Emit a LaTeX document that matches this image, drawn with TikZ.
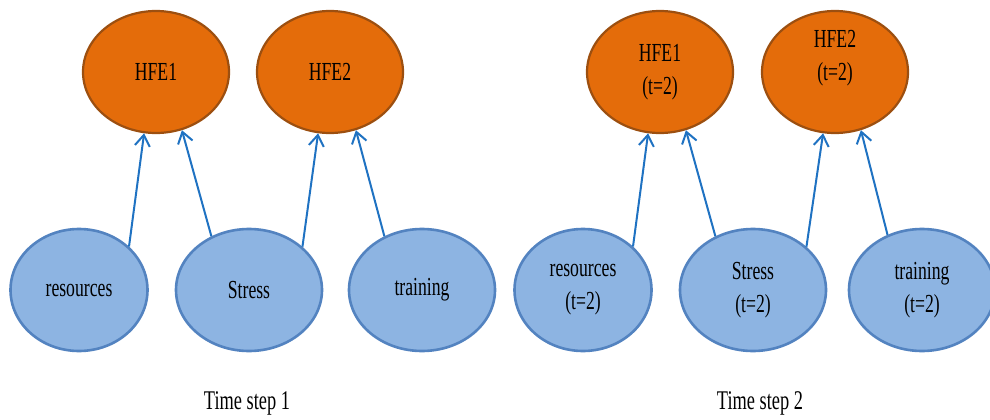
\documentclass[tikz,border=0pt]{standalone}
\usepackage{fontspec}
\setmainfont[FakeStretch=0.68]{Liberation Serif}
\usetikzlibrary{shapes.geometric,arrows.meta}

\definecolor{hfefill}{HTML}{E46C0A}
\definecolor{hfeline}{HTML}{9C4F10}
\definecolor{pfill}{HTML}{8DB4E2}
\definecolor{pline}{HTML}{5383C0}
\definecolor{arrowblue}{HTML}{1F72C2}

\tikzset{
  hfe/.style={ellipse, draw=hfeline, fill=hfefill, line width=2.2pt,
    minimum width=146pt, minimum height=122pt, inner sep=0pt,
    align=center, font=\fontsize{26}{33}\selectfont},
  factor/.style={ellipse, draw=pline, fill=pfill, line width=2.6pt,
    minimum width=146pt, minimum height=122pt, inner sep=0pt,
    align=center, font=\fontsize{26}{33}\selectfont},
  narrow/.style={minimum width=137pt},
  influence/.style={draw=arrowblue, line width=2pt,
    -{Straight Barb[length=11pt,width=15pt,line width=2pt]}},
  caption/.style={font=\fontsize{27}{30}\selectfont}
}

\begin{document}
\begin{tikzpicture}[x=1pt, y=-1pt]
  \useasboundingbox (0,0) rectangle (990,420);

  % time step 1
  \node[hfe] (h1) at (156,72) {HFE1};
  \node[hfe] (h2) at (330,72) {HFE2};
  \node[factor, narrow] (r1) at (79,290) {resources};
  \node[factor] (s1) at (249,290) {Stress};
  \node[factor] (t1) at (422,290) {training};

  \draw[influence] (r1.41)  -- (h1.259);
  \draw[influence] (s1.125) -- (h1.294);
  \draw[influence] (s1.39)  -- (h2.259);
  \draw[influence] (t1.125) -- (h2.294);

  \node[caption] (c1) at (247,403) {Time step 1};

  % time step 2
  \node[hfe] (h1b) at (660,72) {HFE1\\(t=2)};
  \node[hfe] (h2b) at (835,72) {HFE2\\(t=2)\\\mbox{}};
  \node[factor, narrow] (r2) at (583,290) {resources\\(t=2)};
  \node[factor] (s2) at (753,290) {Stress\\(t=2)};
  \node[factor] (t2) at (922,290) {training\\(t=2)};

  \draw[influence] (r2.41)  -- (h1b.259);
  \draw[influence] (s2.125) -- (h1b.294);
  \draw[influence] (s2.39)  -- (h2b.259);
  \draw[influence] (t2.122) -- (h2b.294);

  \node[caption] (c2) at (760,403) {Time step 2};
\end{tikzpicture}
\end{document}
